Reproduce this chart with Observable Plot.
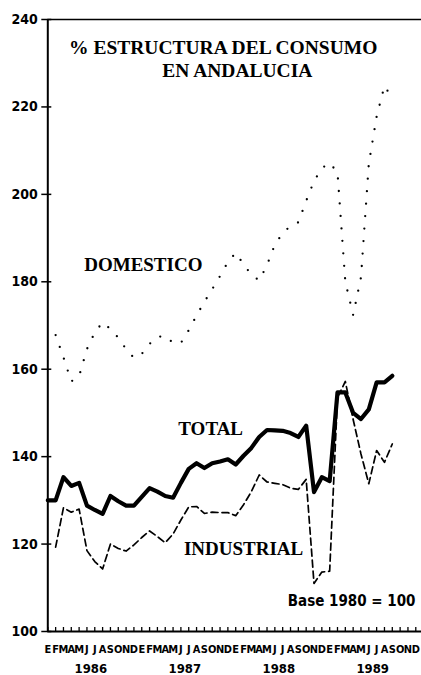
<!DOCTYPE html>
<html><head><meta charset="utf-8">
<script src="https://cdn.jsdelivr.net/npm/d3@7"></script>
<script src="https://cdn.jsdelivr.net/npm/@observablehq/plot@0.6"></script>
<style>body{margin:0;background:#fff;} svg{display:block;} </style>
</head><body><div id="chart"></div>
<script>
// Month initials (Spanish) and years, Jan 1986 .. Dec 1989
const monthLetters = ["E","F","M","A","M","J","J","A","S","O","N","D"];
const yearLabels = ["1986","1987","1988","1989"];
const yTicks = [100,120,140,160,180,200,220,240];

// Index (Base 1980 = 100), monthly from Jan 1986 (index 0) to Sep 1989 (index 44)
const total = [130,130,135.3,133.3,134,128.8,127.8,126.9,131,129.8,128.8,128.8,
  130.8,132.8,132,131,130.6,134,137.2,138.5,137.4,138.5,138.9,139.4,
  138.2,140.2,142,144.5,146.1,146,145.9,145.4,144.5,147.1,131.9,135.3,
  134.4,154.7,154.7,150,148.6,150.8,157,157,158.5];
const industrial = [null,119.3,128.3,127.3,128,118.5,116,114.3,120,119,118.4,119.8,
  121.5,123,121.7,120.3,122.3,125.5,128.5,128.6,127,127.3,127.2,127.2,
  126.5,129,132,135.8,134.2,133.9,133.6,132.8,132.5,134.8,111,113.6,
  113.8,153.5,157.2,148.5,140.6,133.8,141.4,138.7,142.9];
const domestic = [null,167.8,162.7,157.2,158.4,164.6,168.4,170.7,169.2,167.2,164.6,162.6,
  163.5,165.8,167.4,167.6,166,166,168.9,172.3,175.4,178.3,181.3,184.5,
  186.6,184,181.6,180.3,183.8,188.5,191.1,192.8,193.6,198.5,203,206,
  207.2,205,180,172.4,181,207,217.8,224.8,222];

const months = d3.range(monthLetters.length * yearLabels.length);
const rows = arr => arr.map((v, i) => ({i, v})).filter(d => d.v != null);

const sansC = "'Liberation Sans Narrow','DejaVu Sans Condensed','Liberation Sans',sans-serif";
const serif = "'Liberation Serif','DejaVu Serif',serif";

const chart = Plot.plot({
  width: 421,
  height: 675,
  marginTop: 19,
  marginBottom: 44,
  marginLeft: 47.3,
  marginRight: 0,
  style: {background: "#fff", color: "#000"},
  x: {domain: [0, 47.73], axis: null},
  y: {domain: [100, 240], axis: null},
  marks: [
    // frame lines
    Plot.ruleY([240], {strokeWidth: 1.5}),
    Plot.ruleY([100], {strokeWidth: 2}),
    Plot.ruleX([0], {strokeWidth: 2}),
    // y axis with crossing ticks
    Plot.axisY({ticks: yTicks, tickSize: 10, dx: 4, tickPadding: 4, strokeWidth: 1.5,
      fontSize: 14, fontWeight: "bold", fontFamily: sansC, label: null}),
    // x axis month ticks pointing upward
    Plot.axisX({ticks: months, tickSize: 4, dy: -4, text: null, strokeWidth: 1.3, label: null}),
    Plot.text(months, {x: d => d, text: d => monthLetters[d % 12], frameAnchor: "bottom",
      dy: 18, lineAnchor: "middle", fontSize: 11, fontWeight: "bold", fontFamily: sansC}),
    Plot.text(yearLabels, {x: (d, k) => 5.5 + 12 * k, text: d => d, frameAnchor: "bottom",
      dy: 37, lineAnchor: "middle", fontSize: 13, fontWeight: "bold", fontFamily: sansC}),
    // series
    Plot.line(rows(domestic), {x: "i", y: "v", stroke: "#000", strokeWidth: 2.3,
      strokeDasharray: "0,12.5", strokeLinecap: "round"}),
    Plot.line(rows(industrial), {x: "i", y: "v", stroke: "#000", strokeWidth: 1.7,
      strokeDasharray: "7,4"}),
    Plot.line(rows(total), {x: "i", y: "v", stroke: "#000", strokeWidth: 4.2,
      strokeLinejoin: "round"}),
    // labels
    Plot.text(["% ESTRUCTURA DEL CONSUMO"], {x: 22.4, y: 233.5, fontSize: 19.5,
      fontWeight: "bold", fontFamily: serif}),
    Plot.text(["EN ANDALUCIA"], {x: 24.2, y: 228.3, fontSize: 19.5, fontWeight: "bold", fontFamily: serif}),
    Plot.text(["DOMESTICO"], {x: 12.2, y: 183.8, fontSize: 19, fontWeight: "bold", fontFamily: serif}),
    Plot.text(["TOTAL"], {x: 20.8, y: 146.4, fontSize: 19, fontWeight: "bold", fontFamily: serif}),
    Plot.text(["INDUSTRIAL"], {x: 25.0, y: 119.0, fontSize: 19, fontWeight: "bold", fontFamily: serif}),
    Plot.text(["Base 1980 = 100"], {x: 38.8, y: 106.9, fontSize: 15, fontWeight: "bold", fontFamily: sansC})
  ]
});
document.getElementById("chart").append(chart);
</script>
</body></html>
